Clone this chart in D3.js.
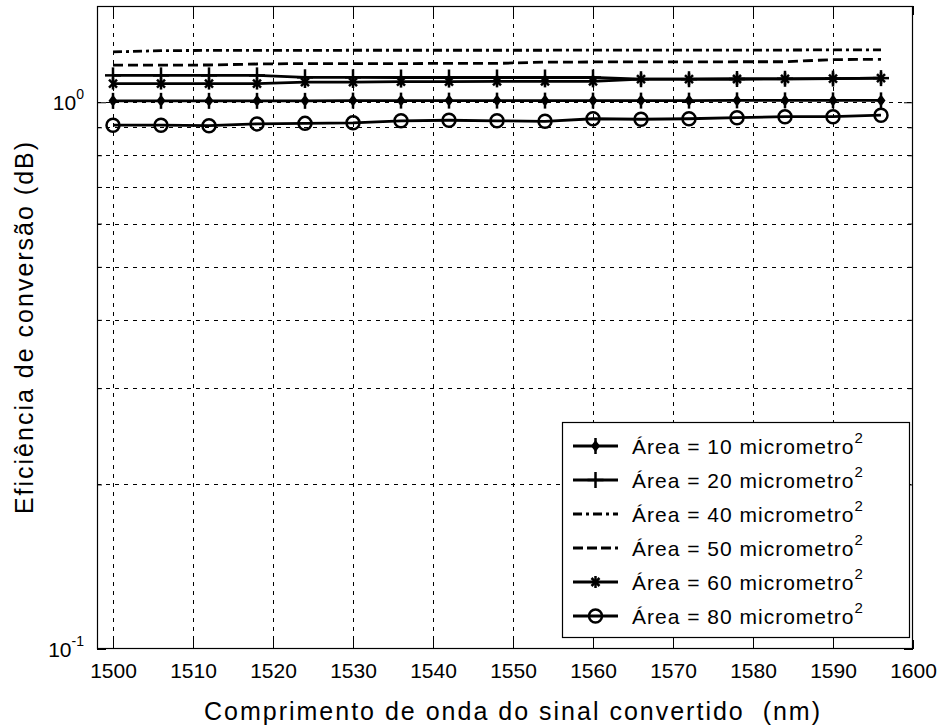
<!DOCTYPE html>
<html><head><meta charset="utf-8">
<script src="https://cdn.jsdelivr.net/npm/d3@7"></script>
<style>
body{margin:0;background:#fff}
text{font-family:"Liberation Sans",Arial,Helvetica,sans-serif;fill:#000}
</style>
</head><body>
<svg id="chart" width="941" height="727"></svg>
<script>
// ---- data ----
const wavelengths = [1500,1506,1512,1518,1524,1530,1536,1542,1548,1554,1560,1566,1572,1578,1584,1590,1596];
const area10 = [1.006,1.006,1.006,1.006,1.006,1.007,1.007,1.007,1.007,1.007,1.007,1.007,1.007,1.008,1.008,1.008,1.008];
const area20 = [1.120,1.120,1.120,1.120,1.111,1.111,1.110,1.110,1.110,1.110,1.110,1.102,1.102,1.103,1.104,1.105,1.107];
const area40 = [1.236,1.243,1.244,1.244,1.244,1.245,1.245,1.245,1.245,1.245,1.246,1.246,1.246,1.246,1.246,1.247,1.247];
const area50 = [1.169,1.169,1.170,1.175,1.177,1.177,1.177,1.178,1.178,1.184,1.185,1.185,1.185,1.186,1.186,1.197,1.198];
const area60 = [1.082,1.082,1.082,1.082,1.089,1.089,1.091,1.091,1.092,1.092,1.092,1.102,1.102,1.103,1.104,1.105,1.107];
const area80 = [0.908,0.908,0.906,0.913,0.915,0.917,0.925,0.927,0.925,0.923,0.933,0.931,0.933,0.937,0.941,0.941,0.947];
const legendLabels = ["Área = 10 micrometro","Área = 20 micrometro","Área = 40 micrometro","Área = 50 micrometro","Área = 60 micrometro","Área = 80 micrometro"];
const xTickValues = [1500,1510,1520,1530,1540,1550,1560,1570,1580,1590,1600];
const yMajorTicks = [0.1, 1];
const yMajorExp = ["-1", "0"];
const yMinorTicks = [0.2,0.3,0.4,0.5,0.6,0.7,0.8,0.9];
const xLabel = "Comprimento de onda do sinal convertido  (nm)";
const yLabel = "Eficiência de conversão (dB)";

// ---- layout ----
const L = 97, R = 913, T = 6, B = 649;
const svg = d3.select("#chart");
const x = d3.scaleLinear().domain([1498, 1600]).range([L, R]);
const y = d3.scaleLog().domain([0.1, 1.5]).range([B, T]);

const series = [
  {vals: area10, dash: null, marker: "star"},
  {vals: area20, dash: null, marker: "plus"},
  {vals: area40, dash: "9,4,3,4", marker: null},
  {vals: area50, dash: "10,5", marker: null},
  {vals: area60, dash: null, marker: "asterisk"},
  {vals: area80, dash: null, marker: "circle"}
];

svg.append("rect").attr("x",0).attr("y",0).attr("width",941).attr("height",727).attr("fill","#fff");

// grid
const grid = svg.append("g").attr("stroke","#000").attr("stroke-width",1).attr("stroke-dasharray","4,5").attr("shape-rendering","crispEdges");
grid.selectAll("line.v").data(xTickValues.filter(d => d < 1600)).join("line")
  .attr("x1", d => Math.round(x(d)) + 0.5).attr("x2", d => Math.round(x(d)) + 0.5)
  .attr("y1", T).attr("y2", B);
grid.selectAll("line.h").data(yMinorTicks.concat([1])).join("line")
  .attr("x1", L).attr("x2", R)
  .attr("y1", d => Math.round(y(d)) + 0.5).attr("y2", d => Math.round(y(d)) + 0.5);

// axes (ticks inward)
function styleAxis(g){ g.select(".domain").remove(); g.selectAll("line").attr("stroke","#000").attr("stroke-width",1); }
const xb = svg.append("g").attr("transform",`translate(0,${B})`)
  .call(d3.axisBottom(x).tickValues(xTickValues).tickSizeInner(-9).tickSizeOuter(0).tickPadding(14).tickFormat(d3.format("d")));
styleAxis(xb);
xb.selectAll("text").attr("font-size","21px").attr("font-family","Liberation Sans, Arial, sans-serif").attr("fill","#000");
const xt = svg.append("g").attr("transform",`translate(0,${T})`)
  .call(d3.axisTop(x).tickValues(xTickValues).tickSizeInner(-9).tickSizeOuter(0).tickFormat(""));
styleAxis(xt);

const yl = svg.append("g").attr("transform",`translate(${L},0)`)
  .call(d3.axisLeft(y).tickValues(yMajorTicks).tickSizeInner(-9).tickSizeOuter(0).tickFormat(""));
styleAxis(yl);
yl.selectAll(".tick").each(function(d, i){
  const t = d3.select(this).append("text").attr("x", -13).attr("y", 7)
    .attr("text-anchor","end").attr("font-size","21px").attr("fill","#000");
  t.append("tspan").text("10");
  t.append("tspan").attr("dy", -11).attr("font-size","14px").text(yMajorExp[yMajorTicks.indexOf(d)]);
});
const ylm = svg.append("g").attr("transform",`translate(${L},0)`)
  .call(d3.axisLeft(y).tickValues(yMinorTicks).tickSizeInner(-5).tickSizeOuter(0).tickFormat(""));
styleAxis(ylm);
const yr = svg.append("g").attr("transform",`translate(${R},0)`)
  .call(d3.axisRight(y).tickValues(yMajorTicks).tickSizeInner(-9).tickSizeOuter(0).tickFormat(""));
styleAxis(yr);
const yrm = svg.append("g").attr("transform",`translate(${R},0)`)
  .call(d3.axisRight(y).tickValues(yMinorTicks).tickSizeInner(-5).tickSizeOuter(0).tickFormat(""));
styleAxis(yrm);

// lines
const line = d3.line().x((d,i) => x(wavelengths[i])).y(d => y(d));
const plot = svg.append("g");
function drawMarker(g, type, cx, cy){
  if (type === "star") {
    g.append("line").attr("x1",cx).attr("x2",cx).attr("y1",cy-8).attr("y2",cy+8).attr("stroke","#000").attr("stroke-width",2.5);
    g.append("path").attr("d",`M${cx},${cy-6}L${cx+4.5},${cy}L${cx},${cy+6}L${cx-4.5},${cy}Z`).attr("fill","#000");
  } else if (type === "plus") {
    g.append("line").attr("x1",cx).attr("x2",cx).attr("y1",cy-8).attr("y2",cy+8).attr("stroke","#000").attr("stroke-width",2.5);
    g.append("line").attr("x1",cx-8).attr("x2",cx+8).attr("y1",cy).attr("y2",cy).attr("stroke","#000").attr("stroke-width",2.5);
  } else if (type === "asterisk") {
    g.append("line").attr("x1",cx).attr("x2",cx).attr("y1",cy-6).attr("y2",cy+6).attr("stroke","#000").attr("stroke-width",2.5);
    g.append("line").attr("x1",cx-4).attr("x2",cx+4).attr("y1",cy-4).attr("y2",cy+4).attr("stroke","#000").attr("stroke-width",2.5);
    g.append("line").attr("x1",cx-4).attr("x2",cx+4).attr("y1",cy+4).attr("y2",cy-4).attr("stroke","#000").attr("stroke-width",2.5);
  } else if (type === "circle") {
    g.append("circle").attr("cx",cx).attr("cy",cy).attr("r",6.5).attr("fill","none").attr("stroke","#000").attr("stroke-width",2.5);
  }
}
series.forEach(s => {
  const p = plot.append("path").datum(s.vals).attr("d", line)
    .attr("fill","none").attr("stroke","#000").attr("stroke-width", 2.8);
  if (s.dash) p.attr("stroke-dasharray", s.dash);
  if (s.marker) s.vals.forEach((v,i) => drawMarker(plot, s.marker, x(wavelengths[i]), y(v)));
});

// border
svg.append("rect").attr("x",L+0.5).attr("y",T+0.5).attr("width",R-L-1).attr("height",B-T-1)
  .attr("fill","none").attr("stroke","#000").attr("stroke-width",1.2);

// legend
const lg = svg.append("g");
lg.append("rect").attr("x",562.5).attr("y",422.5).attr("width",347).attr("height",215)
  .attr("fill","#fff").attr("stroke","#000").attr("stroke-width",1.2);
legendLabels.forEach((lab, i) => {
  const cy = 446 + i*34;
  const s = series[i];
  const ln = lg.append("line").attr("x1",573).attr("x2",618).attr("y1",cy).attr("y2",cy)
    .attr("stroke","#000").attr("stroke-width", 2.8);
  if (s.dash) ln.attr("stroke-dasharray", s.dash === "10,5" ? "10,4" : "9,4,3,4");
  if (s.marker) drawMarker(lg, s.marker, 595.5, cy);
  const t = lg.append("text").attr("x",632).attr("y",cy+8).attr("font-size","21px").attr("letter-spacing","1px");
  t.append("tspan").text(lab);
  t.append("tspan").attr("dy",-11).attr("font-size","15px").text("2");
});

// axis labels
svg.append("text").attr("x",513).attr("y",720).attr("text-anchor","middle")
  .attr("font-size","25px").attr("letter-spacing","2px").style("white-space","pre").text(xLabel);
svg.append("text").attr("transform","translate(33,327) rotate(-90)").attr("text-anchor","middle")
  .attr("font-size","25px").attr("letter-spacing","2px").text(yLabel);
</script>
</body></html>
